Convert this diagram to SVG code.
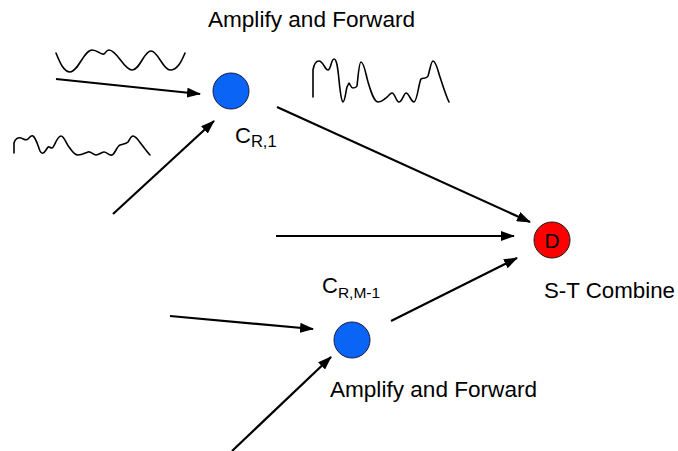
<svg xmlns="http://www.w3.org/2000/svg" width="678" height="451" viewBox="0 0 678 451">
<defs>
<marker id="ah" markerUnits="userSpaceOnUse" markerWidth="14" markerHeight="10" refX="13" refY="5" orient="auto">
<path d="M0,0 L14,5 L0,10 Z" fill="#000"/>
</marker>
<style>
.t{font-family:"Liberation Sans",Arial,sans-serif;fill:#000}
.c{stroke:#000;stroke-width:2.2;fill:none;marker-end:url(#ah)}
.w{stroke:#000;stroke-width:1.6;fill:none;stroke-linejoin:round;stroke-linecap:round}
.b{fill:#0A64F5;stroke:#1a1a40;stroke-width:1}
</style>
</defs>
<rect width="678" height="451" fill="#fff"/>
<g id="connectors">
<line class="c" x1="56" y1="79" x2="200" y2="94"/>
<line class="c" x1="113" y1="214" x2="214" y2="121"/>
<line class="c" x1="277" y1="107" x2="530" y2="222"/>
<line class="c" x1="276" y1="236" x2="514" y2="236"/>
<line class="c" x1="391" y1="321" x2="517" y2="258"/>
<line class="c" x1="170" y1="316" x2="313" y2="329"/>
<line class="c" x1="232" y1="451" x2="331" y2="357"/>
</g>
<g id="waves">
<path class="w" d="M56,53 C60,63 64,72 70,72 C78,72 84,50 92,50 C98,50 100,55 104,54 C106,53 106,50 109,50 C117,50 124,70 132,70 C140,70 144,51 151,51 C158,51 163,70 170,70 C178,70 182,60 185,53"/>
<path class="w" d="M14,153 L14,143 C15,139 18,137 21,138 C24,139 26,141 28,139 C30,137 31,135 33,136 C36,138 38,146 40,151 C42,155 44,153 46,150 L48,147 C49,146 50,148 52,148 C54,148 57,136 61,136 C64,136 66,143 69,147 C72,151 74,155 78,155 C82,155 85,153 88,152 C91,151 93,155 96,155 C99,155 102,152 104,152 C107,152 109,156 112,155 C115,154 117,146 120,145 C123,144 126,144 128,142 C130,139 131,136 133,136 C136,136 139,141 142,145 C145,149 148,153 150,155"/>
<path class="w" d="M313,97 L313,70 C314,64 316,61 319,61 C323,61 325,70 328,70 C331,70 331,59 334,59 C337,59 338,70 339,80 C340,90 341,101 343,102 C345,102 346,90 347,87 L349,83 C350,84 351,88 353,88 C355,88 356,88 357,86 C358,78 359,62 361,62 C364,62 366,75 368,82 C371,92 374,102 378,102 C382,102 384,99 386,98 C389,96 390,93 392,93 C395,93 396,102 399,102 C402,102 404,93 406,93 C409,93 411,102 414,102 C417,102 419,82 421,79 C423,77 426,80 428,76 C430,70 431,61 433,61 C436,61 438,71 440,77 C443,86 446,96 449,102"/>
</g>
<g id="title-top"><text class="t" x="311.5" y="27" font-size="22.6" text-anchor="middle">Amplify and Forward</text></g>
<g id="node-cr1">
<circle class="b" cx="231" cy="91" r="18"/>
<text class="t" x="235" y="143" font-size="22">C<tspan font-size="16.5" dy="4">R,1</tspan></text>
</g>
<g id="node-crm1">
<circle class="b" cx="352" cy="340" r="18"/>
<text class="t" x="322" y="293" font-size="22">C<tspan font-size="15.5" dy="5">R,M-1</tspan></text>
<text class="t" x="433.5" y="397" font-size="22.6" text-anchor="middle">Amplify and Forward</text>
</g>
<g id="node-d">
<circle cx="552" cy="240" r="18" fill="#FF0000" stroke="#1a1a1a" stroke-width="1"/>
<text class="t" x="552" y="248" font-size="21" text-anchor="middle">D</text>
<text class="t" x="544" y="298" font-size="22.3">S-T Combine</text>
</g>
</svg>
